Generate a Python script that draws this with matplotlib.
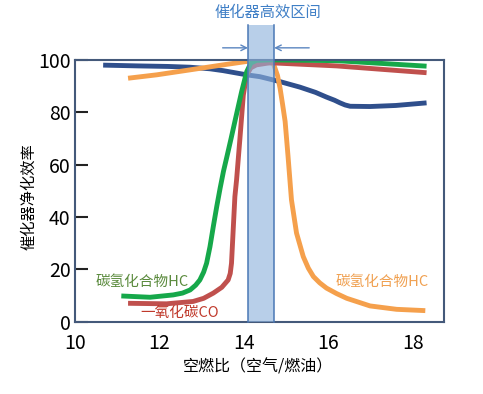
import matplotlib
matplotlib.use('Agg')
import matplotlib.pyplot as plt

plt.rcParams['font.family'] = ['Noto Sans CJK SC', 'DejaVu Sans']

# curve data (air/fuel ratio, efficiency %)
blue_x = [10.67, 11.5, 12.2, 12.73, 13.2, 13.51, 14.07, 14.38, 14.86, 15.33, 15.7, 15.96, 16.15,
          16.28, 16.4, 16.52, 16.99, 17.6, 18.33]
blue_y = [98.0, 97.7, 97.5, 97.2, 96.6, 95.9, 94.3, 93.6, 91.7, 89.6, 87.6, 85.8, 84.6,
          83.6, 82.8, 82.3, 82.2, 82.6, 83.6]

orange_x = [11.26, 11.94, 12.73, 13.51, 14.07, 14.4, 14.7, 14.8, 14.86, 14.92, 14.98, 15.05,
            15.13, 15.25, 15.41, 15.53, 15.65, 15.8, 15.96, 16.2, 16.44, 16.99, 17.62, 18.3]
orange_y = [93.0, 94.3, 96.2, 98.1, 99.4, 99.3, 98.7, 94.0, 89.2, 83.0, 76.5, 63.0,
            46.6, 33.9, 24.9, 20.5, 17.3, 14.9, 12.9, 10.8, 9.0, 6.1, 4.8, 4.3]

green_x = [11.1, 11.78, 12.33, 12.55, 12.73, 12.86, 12.96, 13.05, 13.12, 13.2, 13.28, 13.36,
           13.44, 13.52, 13.6, 13.7, 13.79, 13.95, 14.07, 14.17, 14.3, 14.62, 16.2, 18.33]
green_y = [9.9, 9.4, 10.3, 11.0, 12.2, 14.0, 16.0, 19.0, 22.4, 28.7, 36.5, 44.0,
           51.0, 57.5, 63.0, 70.0, 76.5, 87.9, 95.5, 98.8, 99.8, 100.0, 99.7, 97.6]

red_x = [11.26, 12.17, 12.8, 13.05, 13.28, 13.48, 13.63, 13.68, 13.71, 13.75, 13.79, 13.83,
         13.91, 13.99, 14.07, 14.17, 14.3, 14.62, 16.2, 18.33]
red_y = [7.1, 6.9, 7.8, 9.0, 11.0, 13.2, 16.0, 18.5, 22.4, 35.1, 47.8, 54.2,
         70.1, 86.6, 94.3, 97.0, 98.1, 98.9, 97.7, 95.1]

band_lo, band_hi = 14.1, 14.72
x_ticks = [10, 12, 14, 16, 18]
y_ticks = [0, 20, 40, 60, 80, 100]

fig = plt.figure(figsize=(4.83, 3.94), dpi=100)
ax = fig.add_axes([0.155, 0.183, 0.764, 0.665])

lw = 3.5
ax.plot(blue_x, blue_y, color='#2f4f8c', lw=lw, solid_capstyle='butt', solid_joinstyle='round')
ax.plot(orange_x, orange_y, color='#f5a04c', lw=lw, solid_capstyle='butt', solid_joinstyle='round')
ax.plot(red_x, red_y, color='#c0504d', lw=lw, solid_capstyle='butt', solid_joinstyle='round')
ax.plot(green_x, green_y, color='#16a84a', lw=lw, solid_capstyle='butt', solid_joinstyle='round')

# high efficiency band, goes above the axes
ax.fill_between([band_lo, band_hi], [0, 0], [113.5, 113.5], color='#8db2dd', alpha=0.62,
                lw=0, clip_on=False, zorder=5)
for bx in (band_lo, band_hi):
    ax.plot([bx, bx], [0, 113.5], color='#4a78b5', lw=1.1, clip_on=False, zorder=6)

# arrows pointing into the band
ax.annotate('', xy=(band_lo, 104.6), xytext=(13.5, 104.6), annotation_clip=False,
            arrowprops=dict(arrowstyle='->', color='#5b86c0', lw=1, shrinkA=0, shrinkB=0))
ax.annotate('', xy=(band_hi, 104.6), xytext=(15.55, 104.6), annotation_clip=False,
            arrowprops=dict(arrowstyle='->', color='#5b86c0', lw=1, shrinkA=0, shrinkB=0))
ax.text(14.57, 118, '催化器高效区间', color='#3f7fc6', fontsize=11, ha='center', va='center',
        clip_on=False)

ax.text(11.6, 15.3, '碳氢化合物HC', color='#5a8a3c', fontsize=10.5, ha='center', va='center')
ax.text(12.49, 3.4, '一氧化碳CO', color='#c0392b', fontsize=10.5, ha='center', va='center')
ax.text(17.27, 15.3, '碳氢化合物HC', color='#f0a050', fontsize=10.5, ha='center', va='center')

ax.set_xlim(10, 18.74)
ax.set_ylim(0, 100)
ax.set_xticks(x_ticks)
ax.set_yticks(y_ticks)
ax.tick_params(axis='x', length=0, pad=8, labelsize=14)
ax.tick_params(axis='y', direction='in', length=9, width=1.5, pad=3, labelsize=14, color='#222222')
for s in ax.spines.values():
    s.set_color('#44597a')
    s.set_linewidth(1.5)

ax.set_ylabel('催化器净化效率', fontsize=11)
ax.yaxis.set_label_coords(-0.103, 0.477)
ax.set_xlabel('空燃比（空气/燃油）', fontsize=11.5)
ax.xaxis.set_label_coords(0.496, -0.14)

fig.savefig('out.png', dpi=100)
